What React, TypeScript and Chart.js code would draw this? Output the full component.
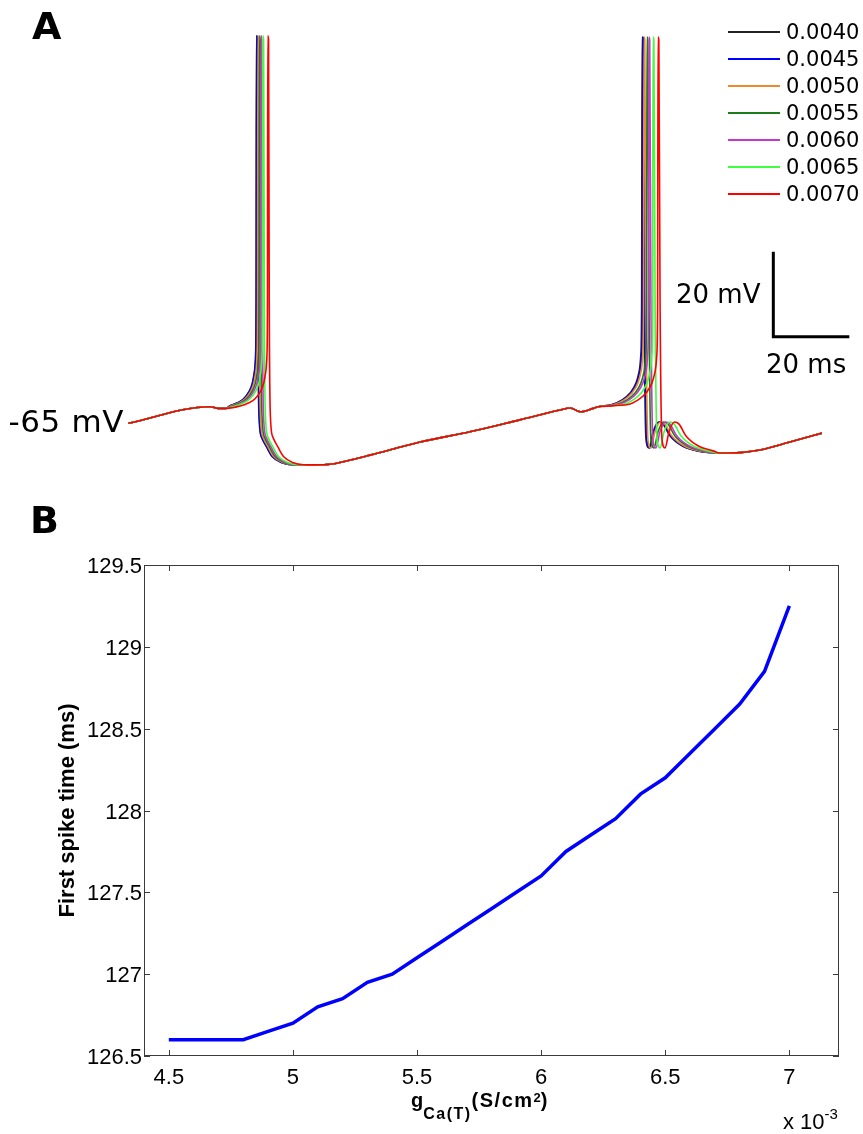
import React, { useEffect, useRef } from "react";
import { Chart, registerables } from "chart.js";

Chart.register(...registerables);

// ---------------- Panel A: membrane potential traces ----------------
const conductanceLabels = ["0.0040", "0.0045", "0.0050", "0.0055", "0.0060", "0.0065", "0.0070"];
const traceColors = ["#222222", "#0000ff", "#ef8a2c", "#1a7d1a", "#c837c8", "#3dff3d", "#ff0000"];
// spike peak times (ms) read per trace
const firstSpikePeakMs = [126.5, 126.6, 126.9, 127.3, 127.7, 128.2, 129.5];
const secondSpikePeakMs = [228.0, 228.2, 228.5, 229.3, 229.8, 230.9, 232.2];
// shared sub-threshold segments: [time ms, voltage mV]
const restingSegment: number[][] = [[92.8, -65.0], [114.3, -61.1], [116.5, -61.5], [118.5, -61.5]];
// spike waveforms relative to the spike peak: [dt ms, voltage mV]
const firstSpikeWave: number[][] = [
  [-7.03, -60.9], [-5.26, -60.3], [-3.42, -59.3], [-1.84, -57.4], [-1.05, -55.5], [-0.53, -52.9],
  [-0.21, -48.9], [-0.08, -36.0], [0, 26.2], [0.21, 25.2], [0.39, -36.0], [0.66, -62.6],
  [1.32, -68.2], [2.63, -70.5], [4.2, -72.9], [6.8, -74.3], [10.5, -74.8],
];
const interSpikeSegment: number[][] = [
  [141.9, -74.8], [146.3, -74.6], [151.5, -73.6], [156.4, -72.5], [169.6, -69.4], [182.7, -67.0],
  [195.8, -64.2], [206.4, -61.9], [209.1, -61.4], [211.7, -62.3], [215.1, -61.5], [216.5, -61.1],
];
const secondSpikeWave: number[][] = [
  [-7.9, -60.6], [-5.26, -59.5], [-3.16, -57.9], [-1.58, -55.5], [-0.79, -52.9], [-0.32, -48.9],
  [-0.11, -36.0], [0, 25.9], [0.21, 25.2], [0.53, -36.0], [1.05, -68.9], [1.84, -70.8],
  [2.9, -67.0], [4.34, -64.7], [5.53, -65.2], [7.37, -68.0], [10.5, -70.3], [14.5, -71.5],
];
const tailSegment: number[][] = [[248.5, -72.0], [253.8, -71.9], [259.0, -71.3], [266.9, -69.4], [275.4, -67.3]];

// ---------------- Panel B: first spike time vs g_Ca(T) ----------------
const gCaT = [4.5, 4.6, 4.7, 4.8, 4.9, 5.0, 5.1, 5.2, 5.3, 5.4, 5.5, 5.6, 5.7, 5.8, 5.9, 6.0, 6.1, 6.2, 6.3, 6.4, 6.5, 6.6, 6.7, 6.8, 6.9, 7.0];
const firstSpikeTime = [126.6, 126.6, 126.6, 126.6, 126.65, 126.7, 126.8, 126.85, 126.95, 127.0, 127.1, 127.2, 127.3, 127.4, 127.5, 127.6, 127.75, 127.85, 127.95, 128.1, 128.2, 128.35, 128.5, 128.65, 128.85, 129.25];
const gTicks = [4.5, 5, 5.5, 6, 6.5, 7];
const timeTicks = [126.5, 127, 127.5, 128, 128.5, 129, 129.5];

function buildTrace(i: number) {
  const pts: { x: number; y: number }[] = [];
  restingSegment.forEach(([t, v]) => pts.push({ x: t, y: v }));
  firstSpikeWave.forEach(([dt, v]) => pts.push({ x: firstSpikePeakMs[i] + dt, y: v }));
  interSpikeSegment.forEach(([t, v]) => pts.push({ x: t, y: v }));
  secondSpikeWave.forEach(([dt, v]) => pts.push({ x: secondSpikePeakMs[i] + dt, y: v }));
  tailSegment.forEach(([t, v]) => pts.push({ x: t, y: v }));
  return pts;
}

const scaleBarPlugin = {
  id: "scaleBar",
  afterDraw(chart: any) {
    const { ctx, scales } = chart;
    const x = scales.x, y = scales.y;
    const t0 = 262.54, v0 = -44.62;
    const x0 = x.getPixelForValue(t0), x1 = x.getPixelForValue(t0 + 20);
    const y0 = y.getPixelForValue(v0), y1 = y.getPixelForValue(v0 + 20);
    ctx.save();
    ctx.strokeStyle = "#000";
    ctx.lineWidth = 3;
    ctx.lineJoin = "miter";
    ctx.beginPath();
    ctx.moveTo(x0, y1);
    ctx.lineTo(x0, y0);
    ctx.lineTo(x1, y0);
    ctx.stroke();
    ctx.restore();
  },
};

const boxTicksPlugin = {
  id: "boxTicks",
  afterDraw(chart: any) {
    const { ctx, chartArea, scales } = chart;
    const { left, right, top, bottom } = chartArea;
    const len = 6;
    ctx.save();
    ctx.strokeStyle = "#3a3a3a";
    ctx.lineWidth = 1;
    ctx.strokeRect(Math.round(left) + 0.5, Math.round(top) + 0.5, Math.round(right - left) - 1, Math.round(bottom - top) - 1);
    ctx.beginPath();
    scales.x.ticks.forEach((t: any) => {
      const px = Math.round(scales.x.getPixelForValue(t.value)) + 0.5;
      ctx.moveTo(px, bottom);
      ctx.lineTo(px, bottom - len);
      ctx.moveTo(px, top);
      ctx.lineTo(px, top + len);
    });
    scales.y.ticks.forEach((t: any) => {
      const py = Math.round(scales.y.getPixelForValue(t.value)) + 0.5;
      ctx.moveTo(left, py);
      ctx.lineTo(left + len, py);
      ctx.moveTo(right, py);
      ctx.lineTo(right - len, py);
    });
    ctx.stroke();
    ctx.restore();
  },
};

const dejavu = '"DejaVu Sans", sans-serif';
const liberation = '"Liberation Sans", Arial, sans-serif';

export default function App() {
  const refA = useRef<HTMLCanvasElement | null>(null);
  const refB = useRef<HTMLCanvasElement | null>(null);

  useEffect(() => {
    const chartA = new Chart(refA.current as HTMLCanvasElement, {
      type: "line",
      data: {
        datasets: conductanceLabels.map((label, i) => ({
          label,
          data: buildTrace(i),
          borderColor: traceColors[i],
          borderWidth: 1.6,
          pointRadius: 0,
          fill: false,
          cubicInterpolationMode: "monotone" as const,
          order: conductanceLabels.length - i,
        })),
      },
      options: {
        animation: false,
        responsive: false,
        maintainAspectRatio: false,
        events: [],
        layout: { padding: { left: 128, right: 41, top: 30, bottom: 30 } },
        scales: {
          x: { type: "linear", display: false, min: 92.72, max: 275.35 },
          y: { type: "linear", display: false, min: -76, max: 27.54 },
        },
        plugins: { legend: { display: false }, tooltip: { enabled: false } },
      },
      plugins: [scaleBarPlugin],
    } as any);

    const chartB = new Chart(refB.current as HTMLCanvasElement, {
      type: "line",
      data: {
        datasets: [
          {
            label: "First spike time",
            data: gCaT.map((g, i) => ({ x: g, y: firstSpikeTime[i] })),
            borderColor: "#0000ff",
            borderWidth: 3.5,
            pointRadius: 0,
            fill: false,
            tension: 0,
          },
        ],
      },
      options: {
        animation: false,
        responsive: false,
        maintainAspectRatio: false,
        events: [],
        layout: { padding: { left: 0, right: 24, top: 65, bottom: 0 } },
        scales: {
          x: {
            type: "linear",
            min: 4.4,
            max: 7.2,
            afterBuildTicks: (s: any) => {
              s.ticks = gTicks.map((v) => ({ value: v }));
            },
            afterFit: (s: any) => {
              s.height = 78;
            },
            grid: { display: false, drawTicks: false },
            border: { display: false },
            ticks: {
              padding: 9,
              color: "#000",
              maxRotation: 0,
              autoSkip: false,
              font: { family: liberation, size: 22 },
              callback: (v: any) => String(v),
            },
          },
          y: {
            type: "linear",
            min: 126.5,
            max: 129.5,
            afterBuildTicks: (s: any) => {
              s.ticks = timeTicks.map((v) => ({ value: v }));
            },
            afterFit: (s: any) => {
              s.width = 144;
            },
            grid: { display: false, drawTicks: false },
            border: { display: false },
            ticks: {
              padding: 2,
              color: "#000",
              autoSkip: false,
              labelOffset: 2,
              font: { family: liberation, size: 22 },
              callback: (v: any) => String(v),
            },
            title: {
              display: true,
              text: "First spike time (ms)",
              color: "#000",
              font: { family: liberation, size: 22, weight: "bold" },
              padding: { top: 55, bottom: 0 },
            },
          },
        },
        plugins: { legend: { display: false }, tooltip: { enabled: false } },
      },
      plugins: [boxTicksPlugin],
    } as any);

    return () => {
      chartA.destroy();
      chartB.destroy();
    };
  }, []);

  const abs: React.CSSProperties = { position: "absolute", whiteSpace: "nowrap", margin: 0, color: "#000" };

  return (
    <div style={{ position: "absolute", left: 0, top: 0, width: 863, height: 1134, background: "#fff", overflow: "hidden" }}>
      <canvas ref={refA} width={863} height={500} style={{ position: "absolute", left: 0, top: 0, width: 863, height: 500 }} />
      <canvas ref={refB} width={863} height={634} style={{ position: "absolute", left: 0, top: 500, width: 863, height: 634 }} />

      <div style={{ ...abs, left: 32, top: 7, fontFamily: dejavu, fontWeight: "bold", fontSize: 38, lineHeight: "38px" }}>A</div>
      <div style={{ ...abs, left: 30, top: 501, fontFamily: dejavu, fontWeight: "bold", fontSize: 38, lineHeight: "38px" }}>B</div>

      <div style={{ ...abs, left: 8.5, top: 405.8, fontFamily: dejavu, fontSize: 31, lineHeight: "31px", letterSpacing: "0.6px" }}>-65 mV</div>

      {conductanceLabels.map((label, i) => {
        const cy = 31.5 + i * 27.05;
        return (
          <React.Fragment key={label}>
            <div style={{ position: "absolute", left: 728, top: cy - 1, width: 52, height: 2, background: traceColors[i] }} />
            <div style={{ ...abs, left: 786, top: cy - 9.5, fontFamily: dejavu, fontSize: 21, lineHeight: "21px" }}>{label}</div>
          </React.Fragment>
        );
      })}

      <div style={{ ...abs, left: 676, top: 281, fontFamily: dejavu, fontSize: 26, lineHeight: "26px" }}>20 mV</div>
      <div style={{ ...abs, left: 766, top: 351, fontFamily: dejavu, fontSize: 26, lineHeight: "26px" }}>20 ms</div>

      <div style={{ ...abs, left: 411, top: 1090.4, fontFamily: liberation, fontWeight: "bold", fontSize: 20, lineHeight: "20px" }}>
        g
        <span style={{ fontSize: 16, position: "relative", top: 12, letterSpacing: "1.5px" }}>Ca(T)</span>
        <span style={{ letterSpacing: "1.5px" }}>(S/cm</span>
        <span style={{ fontSize: 13, position: "relative", top: -5 }}>2</span>)
      </div>

      <div style={{ ...abs, left: 783, top: 1111.4, fontFamily: liberation, fontSize: 22, lineHeight: "22px" }}>
        x 10<span style={{ fontSize: 15, position: "relative", top: -10 }}>-3</span>
      </div>
    </div>
  );
}
